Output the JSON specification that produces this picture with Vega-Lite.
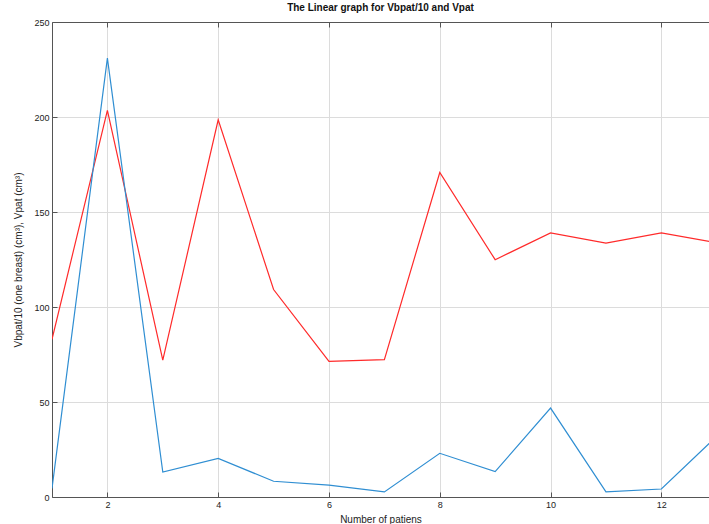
{
  "$schema": "https://vega.github.io/schema/vega-lite/v6.json",
  "autosize": "none",
  "width": 657,
  "height": 475,
  "padding": {"left": 52, "top": 22, "right": 0, "bottom": 27},
  "background": "white",
  "title": {"text": "The Linear graph for Vbpat/10 and Vpat", "fontSize": 10, "fontWeight": "bold", "font": "Liberation Sans", "color": "#111", "offset": 5, "anchor": "middle"},
  "config": {
    "view": {"stroke": null},
    "axis": {"labelFont": "Liberation Sans", "titleFont": "Liberation Sans", "labelFontSize": 9, "titleFontSize": 10, "labelColor": "#222", "titleColor": "#222", "titleFontWeight": "normal", "domainColor": "#555", "tickColor": "#555", "gridColor": "#dcdcdc", "gridWidth": 1, "tickSize": -5}
  },
  "data": {"values": [
    {"n": 1, "s": "Vpat", "v": 83},
    {"n": 2, "s": "Vpat", "v": 203.5},
    {"n": 3, "s": "Vpat", "v": 72},
    {"n": 4, "s": "Vpat", "v": 198.5},
    {"n": 5, "s": "Vpat", "v": 109.2},
    {"n": 6, "s": "Vpat", "v": 71.4},
    {"n": 7, "s": "Vpat", "v": 72.3},
    {"n": 8, "s": "Vpat", "v": 170.8},
    {"n": 9, "s": "Vpat", "v": 124.9},
    {"n": 10, "s": "Vpat", "v": 139},
    {"n": 11, "s": "Vpat", "v": 133.6},
    {"n": 12, "s": "Vpat", "v": 139},
    {"n": 13, "s": "Vpat", "v": 133.8},
    {"n": 1, "s": "Vbpat/10", "v": 4.5},
    {"n": 2, "s": "Vbpat/10", "v": 231},
    {"n": 3, "s": "Vbpat/10", "v": 13.1},
    {"n": 4, "s": "Vbpat/10", "v": 20.3},
    {"n": 5, "s": "Vbpat/10", "v": 8.3},
    {"n": 6, "s": "Vbpat/10", "v": 6.2},
    {"n": 7, "s": "Vbpat/10", "v": 2.7},
    {"n": 8, "s": "Vbpat/10", "v": 23},
    {"n": 9, "s": "Vbpat/10", "v": 13.4},
    {"n": 10, "s": "Vbpat/10", "v": 46.8},
    {"n": 11, "s": "Vbpat/10", "v": 2.7},
    {"n": 12, "s": "Vbpat/10", "v": 4.2},
    {"n": 13, "s": "Vbpat/10", "v": 32}
  ]},
  "layer": [
    {
      "mark": {"type": "line", "clip": true, "strokeWidth": 1.2},
      "encoding": {
        "x": {"field": "n", "type": "quantitative", "scale": {"domain": [1, 12.86], "nice": false, "zero": false},
              "axis": {"orient": "bottom", "values": [2, 4, 6, 8, 10, 12], "title": "Number of patiens", "titlePadding": 5, "labelPadding": 8, "grid": true}},
        "y": {"field": "v", "type": "quantitative", "scale": {"domain": [0, 250], "nice": false},
              "axis": {"values": [0, 50, 100, 150, 200, 250], "title": "Vbpat/10 (one breast) (cm³), Vpat (cm³)", "titlePadding": 10, "labelPadding": 8, "grid": true}},
        "color": {"field": "s", "type": "nominal", "scale": {"domain": ["Vpat", "Vbpat/10"], "range": ["#ff2a2a", "#2f8ed2"]}, "legend": null},
        "detail": {"field": "s"}
      }
    },
    {
      "mark": {"type": "line", "opacity": 0},
      "encoding": {
        "x": {"field": "n", "type": "quantitative", "axis": {"orient": "top", "values": [2, 4, 6, 8, 10, 12], "labels": false, "title": null, "grid": false}},
        "y": {"field": "v", "type": "quantitative"},
        "detail": {"field": "s"}
      }
    }
  ],
  "resolve": {"axis": {"x": "independent"}}
}
